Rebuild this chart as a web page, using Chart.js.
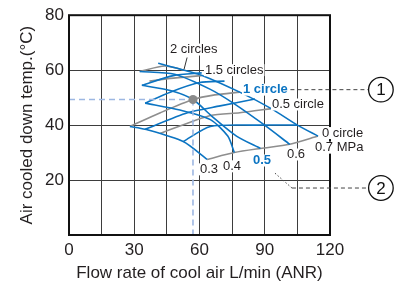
<!DOCTYPE html>
<html><head><meta charset="utf-8">
<script src="https://cdn.jsdelivr.net/npm/chart.js@4.4.1/dist/chart.umd.min.js"></script>
<style>html,body{margin:0;padding:0;background:#fff;}</style>
</head><body>
<canvas id="c" width="398" height="289"></canvas>
<script>
// ---- data (x: L/min, y: °C) ----
const xTickValues = [0, 30, 60, 90, 120];
const yTickValues = [20, 40, 60, 80];
// pressure lines (blue)
const p07 = [[41,62.5],[53,60],[61.5,58],[78.5,52],[93,46],[105,40],[114.5,36]];
const p06 = [[32.5,59.5],[48.5,58.5],[65,53],[75.5,48],[89,40.5],[101.5,33]];
const p05 = [[33.5,54.5],[47,52.5],[57,49.3],[66,43],[77,36],[88,31.5]];
const p04 = [[35,48],[51,45.5],[65,42],[73,36],[76,30]];
const p03 = [[28,39.5],[35,38.5],[52.5,34],[63.5,27.5]];
// intermediate circle lines (blue)
const q175 = [[33.5,54.5],[48,58],[61,59]];
const q125 = [[35,48],[46.5,52],[60,55.5],[71.5,56]];
const q075 = [[35,38.5],[54.5,44.5],[69.5,47],[85.5,49.5]];
const q025 = [[52.5,34],[65,39.5],[85.5,40],[105,40]];
// circle lines (grey)
const c0  = [[63.5,27.5],[76,30],[88,31.5],[101.5,33],[114.5,36]];
const c05 = [[42,37],[65,43.5],[78.5,44.5],[93,46]];
const c1  = [[28,39.5],[42,44.5],[57,49.3],[67,51],[78.5,52]];
const c15 = [[37,56],[46.5,57],[61,58]];
const c2  = [[32.5,59.5],[44,61.5],[53,60]];
// operating point (1 circle, 0.5 MPa)
const opPoint = [57, 49.3];

const BLUE = '#0b74c2', GREY = '#8e8e8e', INK = '#231f20';
const FONT = "'Liberation Sans', Arial, Helvetica, sans-serif";

function line(arr, color, w) {
  return {data: arr.map(([x, y]) => ({x, y})), showLine: true, borderColor: color,
          borderWidth: w, pointRadius: 0, fill: false, tension: 0.25, clip: false};
}

const datasets = [
  {data: [{x: opPoint[0], y: opPoint[1]}], pointRadius: 4.5, pointBackgroundColor: '#8a8a8a',
   pointBorderWidth: 0, showLine: false},
  {data: [{x: 0, y: opPoint[1]}, {x: opPoint[0], y: opPoint[1]}], showLine: true, pointRadius: 0,
   borderColor: '#9db7e2', borderWidth: 1.6, borderDash: [6, 4]},
  {data: [{x: opPoint[0], y: opPoint[1]}, {x: opPoint[0], y: 0}], showLine: true, pointRadius: 0,
   borderColor: '#9db7e2', borderWidth: 1.6, borderDash: [6, 4]},
  line(p07, BLUE, 1.6), line(p06, BLUE, 1.6), line(p05, BLUE, 1.6), line(p04, BLUE, 1.6), line(p03, BLUE, 1.6),
  line(q175, BLUE, 1.6), line(q125, BLUE, 1.6), line(q075, BLUE, 1.6), line(q025, BLUE, 1.6),
  line(c0, GREY, 1.6), line(c05, GREY, 1.6), line(c1, GREY, 1.6), line(c15, GREY, 1.6), line(c2, GREY, 1.6)
];

// annotation texts anchored in data coordinates
const notes = [
  {t: '2 circles', x: 46.4, y: 67.5, c: INK},
  {t: '1.5 circles', x: 62.5, y: 60, c: INK},
  {t: '1 circle', x: 80, y: 52.9, c: BLUE, bold: true},
  {t: '0.5 circle', x: 93.3, y: 47.5, c: INK},
  {t: '0 circle', x: 116.3, y: 37.1, c: INK},
  {t: '0.7 MPa', x: 113.1, y: 31.8, c: INK},
  {t: '0.3', x: 60.2, y: 23.9, c: INK},
  {t: '0.4', x: 70.8, y: 25, c: INK},
  {t: '0.5', x: 84.6, y: 27.1, c: BLUE, bold: true},
  {t: '0.6', x: 100.2, y: 29.3, c: INK}
];

const decor = {
  id: 'decor',
  afterDraw(chart) {
    const {ctx, chartArea: a, scales: {x, y}} = chart;
    const px = v => x.getPixelForValue(v), py = v => y.getPixelForValue(v);
    ctx.save();
    // frame
    ctx.strokeStyle = '#111'; ctx.lineWidth = 2;
    ctx.strokeRect(a.left, a.top, a.right - a.left, a.bottom - a.top);
    // leader lines
    ctx.lineWidth = 1; ctx.strokeStyle = '#333';
    ctx.beginPath(); ctx.moveTo(px(54.3), py(64.6)); ctx.lineTo(px(52.9), py(60.3)); ctx.stroke();
    ctx.setLineDash([4, 3]); ctx.strokeStyle = '#444';
    ctx.beginPath(); ctx.moveTo(px(101.8), py(52.9)); ctx.lineTo(px(137.9), py(52.9)); ctx.stroke();
    ctx.beginPath(); ctx.moveTo(px(102.5), py(17.1)); ctx.lineTo(px(137.9), py(17.1)); ctx.stroke();
    ctx.setLineDash([1.5, 2]);
    ctx.beginPath(); ctx.moveTo(px(94.7), py(22.5)); ctx.lineTo(px(102.5), py(17.1)); ctx.stroke();
    ctx.setLineDash([]);
    // labels with white background
    ctx.textBaseline = 'middle'; ctx.textAlign = 'left';
    notes.forEach(n => {
      ctx.font = (n.bold ? 'bold ' : '') + '13px ' + FONT;
      const w = ctx.measureText(n.t).width;
      const X = px(n.x), Y = py(n.y);
      ctx.fillStyle = '#fff'; ctx.fillRect(X - 1, Y - 6, w + 2, 12);
      ctx.fillStyle = n.c; ctx.fillText(n.t, X, Y);
    });
    // circled numbers
    [['1', 143.4, 52.9], ['2', 143.4, 17.1]].forEach(([t, vx, vy]) => {
      const X = px(vx), Y = py(vy);
      ctx.beginPath(); ctx.arc(X, Y, 12.3, 0, Math.PI * 2);
      ctx.fillStyle = '#fff'; ctx.fill();
      ctx.lineWidth = 1.3; ctx.strokeStyle = '#111'; ctx.stroke();
      ctx.fillStyle = '#111'; ctx.font = '17px ' + FONT; ctx.textAlign = 'center';
      ctx.fillText(t, X, Y + 1);
      ctx.textAlign = 'left';
    });
    ctx.restore();
  }
};

new Chart(document.getElementById('c'), {
  type: 'scatter',
  data: {datasets},
  options: {
    responsive: false, animation: false, devicePixelRatio: 1,
    layout: {padding: {left: 0, right: 68, top: 11, bottom: 0}},
    plugins: {legend: {display: false}, tooltip: {enabled: false}},
    scales: {
      x: {
        type: 'linear', min: 0, max: 120,
        afterBuildTicks: s => { s.ticks = [0,15,30,45,60,75,90,105,120].map(v => ({value: v})); },
        ticks: {autoSkip: false, maxRotation: 0, padding: 5, color: INK,
                font: {family: FONT, size: 17},
                callback: v => xTickValues.includes(v) ? String(v) : ''},
        grid: {color: '#3d3d3d', lineWidth: 1, drawTicks: false},
        border: {display: false},
        title: {display: true, text: 'Flow rate of cool air L/min (ANR)', color: INK,
                font: {family: FONT, size: 17}, padding: {top: 0, bottom: 5}},
        afterFit: s => { s.height = 54; }
      },
      y: {
        type: 'linear', min: 0, max: 80,
        afterBuildTicks: s => { s.ticks = [0, ...yTickValues].map(v => ({value: v})); },
        ticks: {padding: 5, color: INK, font: {family: FONT, size: 17},
                callback: v => yTickValues.includes(v) ? String(v) : ''},
        grid: {color: '#3d3d3d', lineWidth: 1, drawTicks: false},
        border: {display: false},
        title: {display: true, text: 'Air cooled down temp.(°C)', color: INK,
                font: {family: FONT, size: 17}, padding: {top: 17, bottom: 0}},
        afterFit: s => { s.width = 69; }
      }
    }
  },
  plugins: [decor]
});
</script>
</body></html>
